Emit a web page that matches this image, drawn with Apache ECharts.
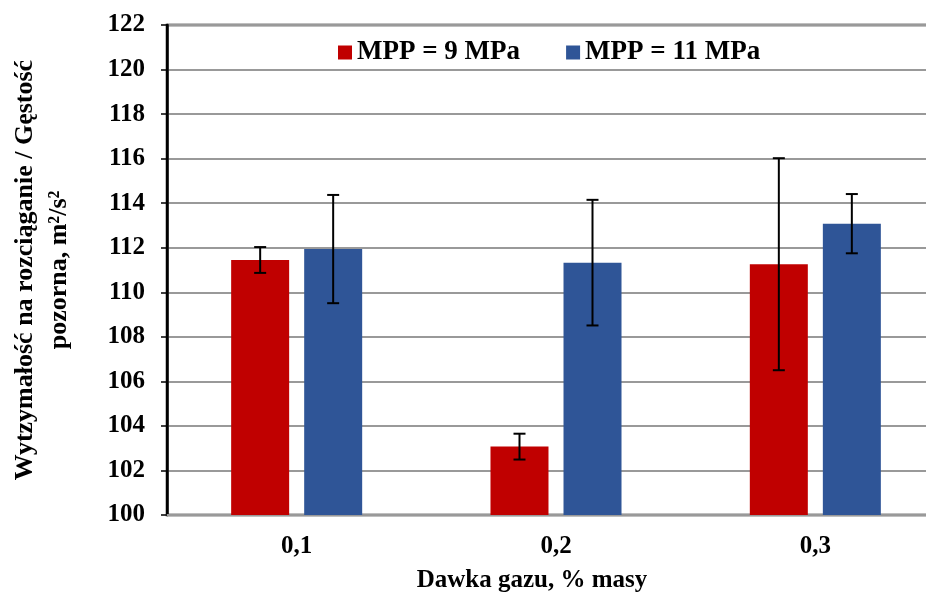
<!DOCTYPE html>
<html>
<head>
<meta charset="utf-8">
<script src="https://cdn.jsdelivr.net/npm/echarts@6/dist/echarts.min.js"></script>
<style>
  html, body { margin: 0; padding: 0; background: #fff; }
  #chart { width: 926px; height: 594px; }
</style>
</head>
<body>
<div id="chart"></div>
<script>
// Gas dose categories (% by mass)
const categories = ['0,1', '0,2', '0,3'];
// Mean specific tensile strength for each pressure
const mpp9 = [111.45, 103.07, 111.26];
const mpp11 = [111.94, 111.33, 113.08];
// Standard deviations (error bar half-lengths)
const mpp9Err = [0.58, 0.58, 4.76];
const mpp11Err = [2.43, 2.82, 1.33];
// Legend names
const seriesNames = ['MPP = 9 MPa', 'MPP = 11 MPa'];

const FONT = '"Liberation Serif", "Times New Roman", serif';
const BAR_W = 58;
const BAR_GAP = 15;
const RED = '#C00000';
const BLUE = '#2F5597';

function errorSeries(name, means, errs, offset) {
  return {
    type: 'custom',
    name: name + ' err',
    silent: true,
    z: 10,
    data: means.map((m, i) => [i, m - errs[i], m + errs[i]]),
    encode: { x: 0, y: [1, 2] },
    renderItem: function (params, api) {
      const lo = api.coord([api.value(0), api.value(1)]);
      const hi = api.coord([api.value(0), api.value(2)]);
      const x = lo[0] + offset;
      const cap = 6;
      const style = { stroke: '#000', lineWidth: 2 };
      return {
        type: 'group',
        children: [
          { type: 'line', shape: { x1: x, y1: hi[1], x2: x, y2: lo[1] }, style: style },
          { type: 'line', shape: { x1: x - cap, y1: hi[1], x2: x + cap, y2: hi[1] }, style: style },
          { type: 'line', shape: { x1: x - cap, y1: lo[1], x2: x + cap, y2: lo[1] }, style: style }
        ]
      };
    }
  };
}

const half = (BAR_W + BAR_GAP) / 2;

const option = {
  animation: false,
  backgroundColor: '#fff',
  grid: {
    left: 167, top: 25, width: 778, height: 490,
    outerBoundsMode: 'none',
    show: true, borderColor: '#000', borderWidth: 2.5, backgroundColor: 'transparent'
  },
  legend: {
    data: seriesNames,
    top: 34,
    left: 333,
    itemWidth: 14,
    itemHeight: 14,
    itemGap: 46,
    icon: 'rect',
    textStyle: { fontFamily: FONT, fontWeight: 'bold', fontSize: 27, color: '#000' }
  },
  xAxis: {
    type: 'category',
    data: categories,
    name: 'Dawka gazu, % masy',
    nameLocation: 'middle',
    nameGap: 53,
    nameTextStyle: {
      fontFamily: FONT, fontWeight: 'bold', fontSize: 25, color: '#000',
      padding: [0, 48, 0, 0]
    },
    axisLine: { lineStyle: { color: '#999', width: 2 } },
    axisTick: { show: false },
    axisLabel: { margin: 19, fontFamily: FONT, fontWeight: 'bold', fontSize: 25, color: '#000' }
  },
  yAxis: {
    type: 'value',
    min: 100, max: 122, interval: 2,
    name: 'Wytzymałość na rozciąganie / Gęstość\npozorna, m²/s²',
    nameLocation: 'middle',
    nameGap: 91,
    nameTextStyle: { fontFamily: FONT, fontWeight: 'bold', fontSize: 26, color: '#000', lineHeight: 34 },
    axisLine: { show: true, lineStyle: { color: '#000', width: 2.5 } },
    axisTick: { show: true, length: 6, lineStyle: { color: '#000', width: 1.5 } },
    axisLabel: { margin: 22, fontFamily: FONT, fontWeight: 'bold', fontSize: 25, color: '#000' },
    splitLine: { lineStyle: { color: '#999', width: 2 } }
  },
  series: [
    {
      name: seriesNames[0], type: 'bar', data: mpp9,
      barWidth: BAR_W, barGap: (BAR_GAP / BAR_W * 100).toFixed(1) + '%',
      itemStyle: { color: RED }
    },
    {
      name: seriesNames[1], type: 'bar', data: mpp11,
      barWidth: BAR_W,
      itemStyle: { color: BLUE }
    },
    errorSeries(seriesNames[0], mpp9, mpp9Err, -half),
    errorSeries(seriesNames[1], mpp11, mpp11Err, half)
  ]
};

const chart = echarts.init(document.getElementById('chart'), null, { renderer: 'canvas' });
chart.setOption(option);
</script>
</body>
</html>
